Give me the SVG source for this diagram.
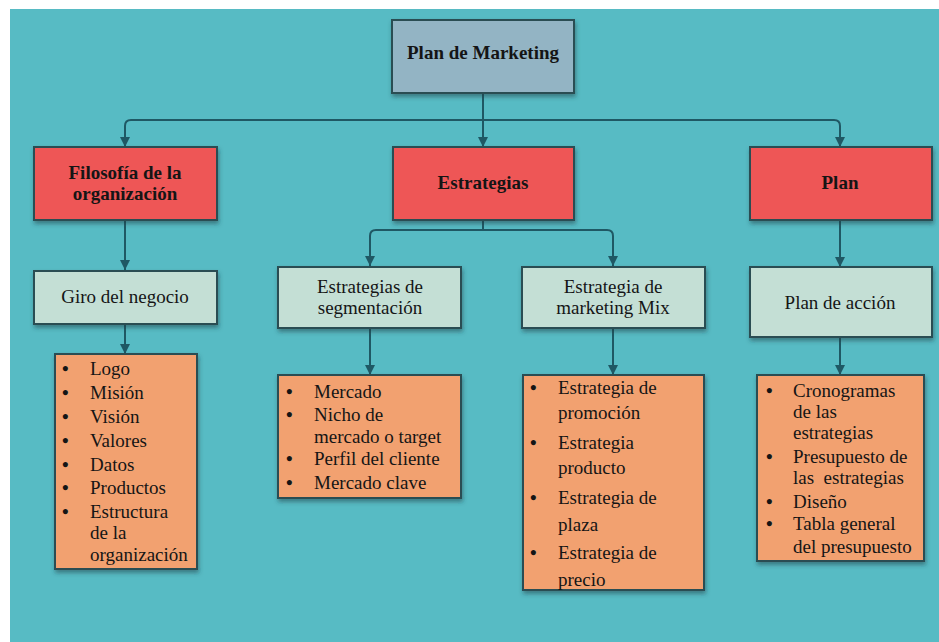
<svg xmlns="http://www.w3.org/2000/svg" width="939" height="642" viewBox="0 0 939 642" font-family="'Liberation Serif', 'Times New Roman', serif">
<defs>
<style>
.box{stroke:#2c4d53;stroke-width:2;filter:url(#sh)}
.top{fill:#93b4c4}
.red{fill:#ee5757}
.lt{fill:#c4dfd5}
.or{fill:#f2a16f}
text{font-family:'Liberation Serif','Times New Roman',serif;font-size:19px;fill:#151515}
.b{font-weight:bold}
.c{text-anchor:middle}
.bu{font-weight:bold}
.con{fill:none;stroke:#1f5864;stroke-width:2}
</style>
<filter id="sh" x="-10%" y="-10%" width="130%" height="140%">
<feDropShadow dx="1" dy="3" stdDeviation="2" flood-color="#1c3a40" flood-opacity="0.5"/>
</filter>
<marker id="ah" viewBox="0 0 10 10" refX="10" refY="5" markerWidth="5" markerHeight="5" orient="auto" markerUnits="strokeWidth">
<path d="M0,0 L10,5 L0,10 z" fill="#1f5864"/>
</marker>
</defs>
<rect x="0" y="0" width="939" height="642" fill="#ffffff"/>
<rect x="10" y="9" width="929" height="633" fill="#57bbc4"/>

<g id="connectors">
<path class="con" d="M483,93 V120" />
<path class="con" d="M483,120 H131 Q125,120 125,126 V147" marker-end="url(#ah)"/>
<path class="con" d="M483,120 V147" marker-end="url(#ah)"/>
<path class="con" d="M483,120 H834 Q840,120 840,126 V147" marker-end="url(#ah)"/>
<path class="con" d="M125,220 V270" marker-end="url(#ah)"/>
<path class="con" d="M125,324 V354" marker-end="url(#ah)"/>
<path class="con" d="M483,220 V230 M483,230 H376 Q370,230 370,236 V266" marker-end="url(#ah)"/>
<path class="con" d="M483,230 H607 Q613,230 613,236 V266" marker-end="url(#ah)"/>
<path class="con" d="M370,328 V375" marker-end="url(#ah)"/>
<path class="con" d="M613,328 V375" marker-end="url(#ah)"/>
<path class="con" d="M840,220 V267" marker-end="url(#ah)"/>
<path class="con" d="M840,337 V375" marker-end="url(#ah)"/>
</g>

<g id="plan-marketing">
<rect class="box top" x="392" y="20" width="182" height="73"/>
<text class="b c" x="483" y="59">Plan de Marketing</text>
</g>

<g id="filosofia">
<rect class="box red" x="34" y="147" width="183" height="73"/>
<text class="b c" x="125" y="179">Filosofía de la</text>
<text class="b c" x="125" y="200">organización</text>
</g>
<g id="estrategias">
<rect class="box red" x="393" y="147" width="181" height="73"/>
<text class="b c" x="483" y="189">Estrategias</text>
</g>
<g id="plan">
<rect class="box red" x="750" y="147" width="182" height="73"/>
<text class="b c" x="840" y="189">Plan</text>
</g>

<g id="giro">
<rect class="box lt" x="34" y="271" width="183" height="53"/>
<text class="c" x="125" y="303">Giro del negocio</text>
</g>
<g id="segmentacion">
<rect class="box lt" x="278" y="267" width="183" height="61"/>
<text class="c" x="370" y="293">Estrategias de</text>
<text class="c" x="370" y="314">segmentación</text>
</g>
<g id="mix">
<rect class="box lt" x="522" y="267" width="183" height="61"/>
<text class="c" x="613" y="293">Estrategia de</text>
<text class="c" x="613" y="314">marketing Mix</text>
</g>
<g id="plan-accion">
<rect class="box lt" x="750" y="267" width="182" height="70"/>
<text class="c" x="840" y="309">Plan de acción</text>
</g>

<g id="lista-filosofia">
<rect class="box or" x="55" y="354" width="142" height="215"/>
<text class="bu" x="62" y="375">•</text><text x="90" y="375">Logo</text>
<text class="bu" x="62" y="399">•</text><text x="90" y="399">Misión</text>
<text class="bu" x="62" y="423">•</text><text x="90" y="423">Visión</text>
<text class="bu" x="62" y="447">•</text><text x="90" y="447">Valores</text>
<text class="bu" x="62" y="471">•</text><text x="90" y="471">Datos</text>
<text class="bu" x="62" y="494">•</text><text x="90" y="494">Productos</text>
<text class="bu" x="62" y="518">•</text><text x="90" y="518">Estructura</text>
<text x="90" y="539">de la</text>
<text x="90" y="561">organización</text>
</g>

<g id="lista-segmentacion">
<rect class="box or" x="278" y="375" width="183" height="123"/>
<text class="bu" x="286" y="398">•</text><text x="314" y="398">Mercado</text>
<text class="bu" x="286" y="421">•</text><text x="314" y="421">Nicho de</text>
<text x="314" y="443">mercado o target</text>
<text class="bu" x="286" y="465">•</text><text x="314" y="465">Perfil del cliente</text>
<text class="bu" x="286" y="489">•</text><text x="314" y="489">Mercado clave</text>
</g>

<g id="lista-mix">
<rect class="box or" x="523" y="375" width="181" height="215"/>
<text class="bu" x="530" y="394">•</text><text x="558" y="394">Estrategia de</text>
<text x="558" y="419">promoción</text>
<text class="bu" x="530" y="449">•</text><text x="558" y="449">Estrategia</text>
<text x="558" y="474">producto</text>
<text class="bu" x="530" y="504">•</text><text x="558" y="504">Estrategia de</text>
<text x="558" y="531">plaza</text>
<text class="bu" x="530" y="559">•</text><text x="558" y="559">Estrategia de</text>
<text x="558" y="586">precio</text>
</g>

<g id="lista-plan">
<rect class="box or" x="757" y="375" width="167" height="186"/>
<text class="bu" x="766" y="397">•</text><text x="793" y="397">Cronogramas</text>
<text x="793" y="418">de las</text>
<text x="793" y="439">estrategias</text>
<text class="bu" x="766" y="463">•</text><text x="793" y="463">Presupuesto de</text>
<text x="793" y="484" xml:space="preserve">las  estrategias</text>
<text class="bu" x="766" y="508">•</text><text x="793" y="508">Diseño</text>
<text class="bu" x="766" y="530">•</text><text x="793" y="530">Tabla general</text>
<text x="793" y="553">del presupuesto</text>
</g>
</svg>
